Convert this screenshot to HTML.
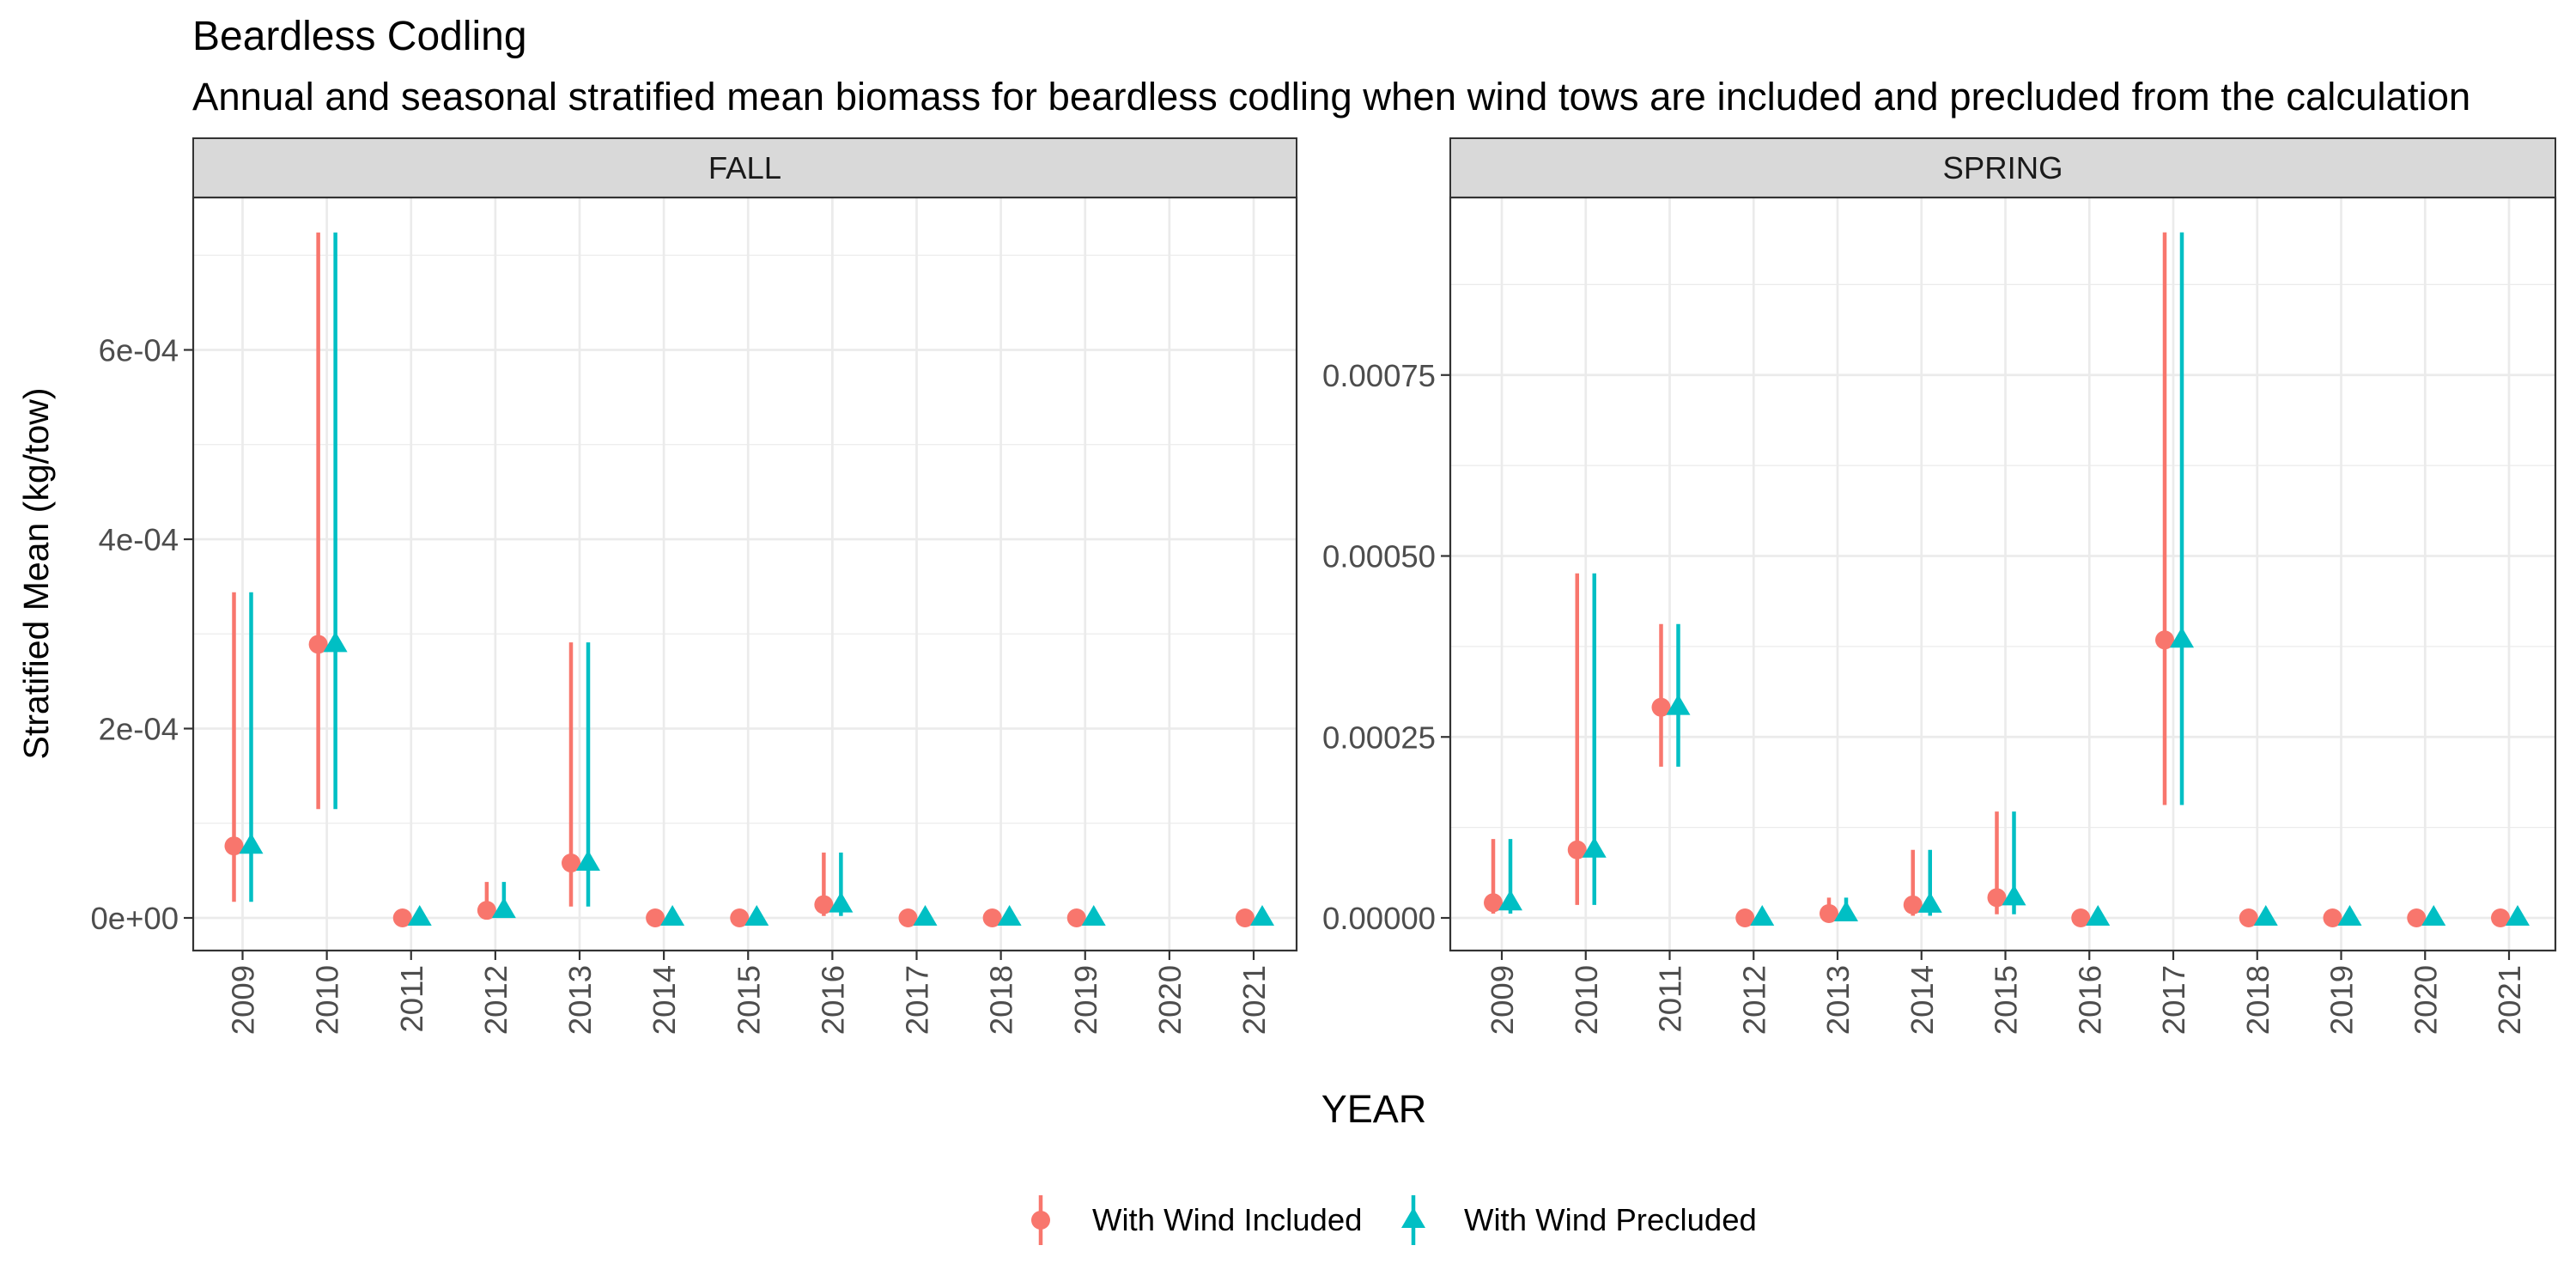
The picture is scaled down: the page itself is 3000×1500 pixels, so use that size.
<!DOCTYPE html>
<html><head><meta charset="utf-8"><style>
html,body{margin:0;padding:0;background:#fff;}
svg{display:block;font-family:"Liberation Sans",Arial,sans-serif;}
</style></head><body>
<svg id="chart" width="3000" height="1500" viewBox="0 0 3000 1500" xmlns="http://www.w3.org/2000/svg">
<text x="224" y="58" font-size="48" fill="#000">Beardless Codling</text>
<text x="224" y="128" font-size="45.5" fill="#000">Annual and seasonal stratified mean biomass for beardless codling when wind tows are included and precluded from the calculation</text>
<text transform="translate(56,668) rotate(-90)" text-anchor="middle" font-size="41" fill="#000">Stratified Mean (kg/tow)</text>
<text x="1600" y="1307" text-anchor="middle" font-size="45" fill="#000">YEAR</text>
<g id="panels"></g>
<g>
  <line x1="1212" y1="1392" x2="1212" y2="1450" stroke="#F8766D" stroke-width="4.5"/>
  <circle cx="1212" cy="1421" r="11" fill="#F8766D"/>
  <text x="1272" y="1433" font-size="36.5" fill="#000">With Wind Included</text>
  <line x1="1646" y1="1392" x2="1646" y2="1450" stroke="#00BFC4" stroke-width="4.5"/>
  <polygon points="1646,1406 1660,1430 1632,1430" fill="#00BFC4"/>
  <text x="1705" y="1433" font-size="36.5" fill="#000">With Wind Precluded</text>
</g>
</svg>
<script>
const years = [2009,2010,2011,2012,2013,2014,2015,2016,2017,2018,2019,2020,2021];
// FALL (values in units of 1e-4 kg/tow)
const fallYears = [2009,2010,2011,2012,2013,2014,2015,2016,2017,2018,2019,2021];
const fallMean = [0.76,2.89,0,0.08,0.58,0,0,0.14,0,0,0,0];
const fallLo   = [0.17,1.15,0,0,0.12,0,0,0.02,0,0,0,0];
const fallHi   = [3.44,7.24,0,0.38,2.91,0,0,0.69,0,0,0,0];
const fallTicks = [0,2,4,6];
const fallTickLabels = ["0e+00","2e-04","4e-04","6e-04"];
const fallMinor = [1,3,5,7];
// SPRING
const springYears = [2009,2010,2011,2012,2013,2014,2015,2016,2017,2018,2019,2020,2021];
const springMean = [0.21,0.94,2.91,0,0.06,0.18,0.28,0,3.84,0,0,0,0];
const springLo   = [0.06,0.18,2.09,0,0,0.03,0.05,0,1.56,0,0,0,0];
const springHi   = [1.09,4.76,4.06,0,0.28,0.94,1.47,0,9.47,0,0,0,0];
const springTicks = [0,2.5,5,7.5];
const springTickLabels = ["0.00000","0.00025","0.00050","0.00075"];
const springMinor = [1.25,3.75,6.25,8.75];

const NS="http://www.w3.org/2000/svg";
const root=document.getElementById('panels');
function mk(tag,attrs,parent){const e=document.createElementNS(NS,tag);for(const k in attrs)e.setAttribute(k,attrs[k]);(parent||root).appendChild(e);return e;}

function panel(name,label,left,right,x0,x1,yPerUnit,ys,mean,lo,hi,ticks,tickLabels,minor){
  const top=230,bottom=1107,zero=1069;
  const g=mk('g',{});
  
  
  const xs=v=>x0+(v-2009)*(x1-x0)/12;
  const yv=v=>zero-v*yPerUnit;
  const s=mk('rect',{x:left,y:161,width:right-left,height:top-161,fill:'#d9d9d9',stroke:'#333','stroke-width':2},g);
  
  
  const st=mk('text',{x:(left+right)/2,y:208,'text-anchor':'middle','font-size':36.5,fill:'#1a1a1a'},g);
  st.textContent=label;
  
  
  minor.forEach(v=>{const l=mk('line',{x1:left,x2:right,y1:yv(v),y2:yv(v),stroke:'#ebebeb','stroke-width':1.3},g);
    
    });
  ticks.forEach(v=>{const l=mk('line',{x1:left,x2:right,y1:yv(v),y2:yv(v),stroke:'#ebebeb','stroke-width':2.7},g);
    
    });
  years.forEach(v=>{const l=mk('line',{x1:xs(v),x2:xs(v),y1:top,y2:bottom,stroke:'#ebebeb','stroke-width':2.7},g);
    
    });
  ys.forEach((yr,i)=>{
    const cx=xs(yr);
    const a=mk('line',{x1:cx-10,x2:cx-10,y1:yv(lo[i]),y2:yv(hi[i]),stroke:'#F8766D','stroke-width':4.5},g);
    
    
    const b=mk('line',{x1:cx+10,x2:cx+10,y1:yv(lo[i]),y2:yv(hi[i]),stroke:'#00BFC4','stroke-width':4.5},g);
    
    
    const c=mk('circle',{cx:cx-10,cy:yv(mean[i]),r:11,fill:'#F8766D'},g);
    
    
    const py=yv(mean[i]), px=cx+10;
    const t=mk('polygon',{points:`${px},${py-15} ${px+14},${py+9} ${px-14},${py+9}`,fill:'#00BFC4'},g);
    
    
  });
  const bd=mk('rect',{x:left,y:top,width:right-left,height:bottom-top,fill:'none',stroke:'#333','stroke-width':2.2},g);
  
  
  ticks.forEach((v,i)=>{
    const l=mk('line',{x1:left-11,x2:left,y1:yv(v),y2:yv(v),stroke:'#333','stroke-width':2.2},g);
    
    
    const t=mk('text',{x:left-17,y:yv(v)+13,'text-anchor':'end','font-size':36.5,fill:'#4d4d4d'},g);
    t.textContent=tickLabels[i];
    
    
  });
  years.forEach(v=>{
    const l=mk('line',{x1:xs(v),x2:xs(v),y1:bottom,y2:bottom+11,stroke:'#333','stroke-width':2.2},g);
    
    
    const t=mk('text',{transform:`translate(${xs(v)+13},${bottom+17}) rotate(-90)`,'text-anchor':'end','font-size':36.5,fill:'#4d4d4d'},g);
    t.textContent=String(v);
    
    
  });
}
panel('fall','FALL',225,1510,282.5,1460,110.25,fallYears,fallMean,fallLo,fallHi,fallTicks,fallTickLabels,fallMinor);
panel('spring','SPRING',1689,2976,1749,2922,84.3,springYears,springMean,springLo,springHi,springTicks,springTickLabels,springMinor);
</script>
</body></html>
